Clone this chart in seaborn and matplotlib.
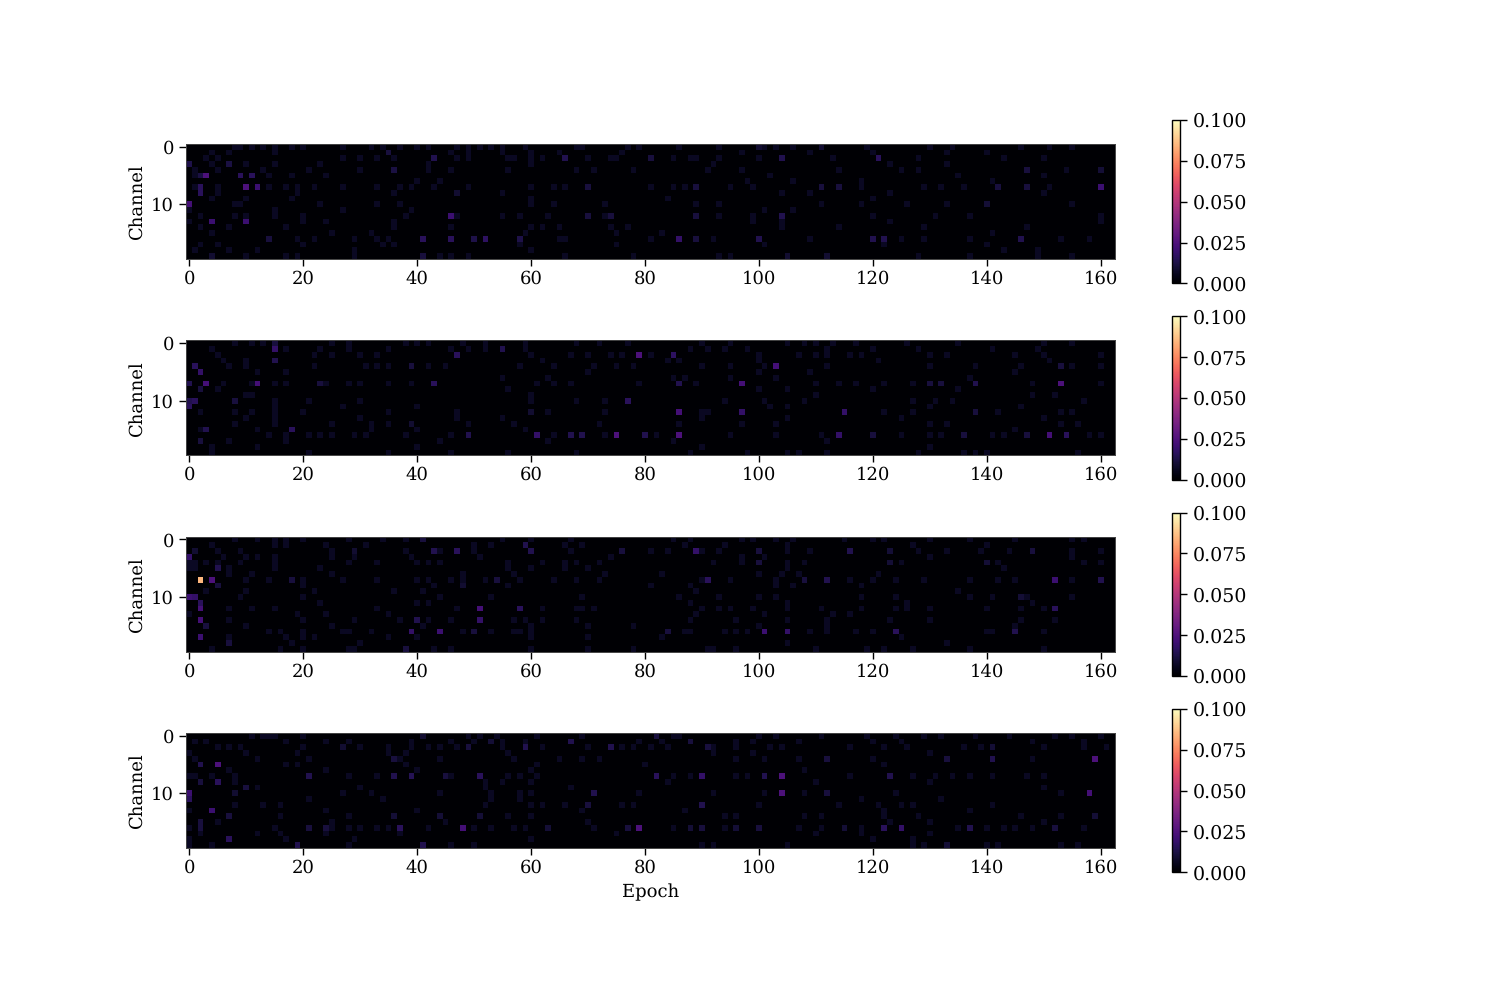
"""Channel activity per epoch, four heatmap panels with their own colorbars."""

import numpy as np
import matplotlib
matplotlib.use('Agg')
import matplotlib.pyplot as plt
import seaborn as sns

N_CHANNELS = 20
N_EPOCHS = 163
VMIN = 0.0
VMAX = 0.1
FAINT_LEVEL = 0.0065

epoch_ticks = [0, 20, 40, 60, 80, 100, 120, 140, 160]
channel_ticks = [0, 10]
cbar_ticks = [0.0, 0.025, 0.05, 0.075, 0.1]

# brightest cells: (epoch, channel, value)
panel1_peaks = [
    (3, 5, .024), (2, 5, .012), (9, 5, .016), (11, 5, .016), (10, 7, .024), (12, 7, .02),
    (2, 7, .016), (2, 8, .016), (0, 10, .022), (4, 13, .02), (10, 13, .02), (0, 3, .013),
    (7, 3, .012), (43, 2, .014), (66, 2, .014), (35, 1, .011), (36, 4, .012), (46, 12, .02),
    (41, 16, .016), (46, 16, .016), (50, 16, .013), (52, 16, .017), (58, 16, .013),
    (41, 19, .011), (14, 16, .011), (70, 12, .011), (74, 12, .011), (70, 7, .011),
    (81, 2, .011), (4, 19, .009), (47, 8, .009), (86, 16, .018), (104, 2, .014),
    (121, 2, .016), (111, 7, .011), (114, 7, .011), (160, 7, .02), (104, 12, .014),
    (100, 16, .014), (120, 16, .014), (122, 16, .014), (146, 16, .014), (142, 7, .011),
    (147, 7, .011), (147, 4, .011), (100, 0, .009), (111, 0, .009), (89, 7, .011),
    (89, 12, .011), (89, 16, .011), (160, 4, .01), (140, 10, .01), (105, 19, .009),
    (112, 19, .009),
]
panel2_peaks = [
    (15, 1, .018), (15, 0, .011), (15, 3, .014), (1, 4, .016), (2, 5, .018), (0, 7, .014),
    (3, 7, .022), (12, 7, .022), (2, 8, .011), (0, 10, .014), (1, 10, .016), (0, 11, .016),
    (8, 10, .011), (3, 15, .014), (18, 15, .016), (2, 17, .011), (47, 2, .016), (55, 1, .014),
    (79, 2, .024), (23, 7, .011), (43, 7, .016), (77, 10, .016), (61, 16, .018), (75, 16, .024),
    (67, 16, .014), (69, 16, .014), (49, 16, .014), (80, 16, .014), (39, 4, .011), (39, 14, .009),
    (60, 12, .009), (85, 2, .017), (103, 4, .022), (86, 7, .014), (97, 7, .022), (86, 12, .022),
    (97, 12, .018), (115, 12, .018), (86, 16, .024), (114, 16, .018), (153, 7, .024),
    (151, 16, .022), (154, 16, .016), (147, 16, .011), (120, 16, .011), (138, 7, .014),
    (130, 7, .011), (132, 7, .011), (138, 12, .011), (136, 16, .011), (153, 4, .011),
]
panel3_peaks = [
    (2, 7, .085), (4, 7, .024), (0, 3, .018), (1, 2, .009), (0, 4, .007), (1, 4, .007),
    (0, 5, .007), (1, 5, .007), (5, 5, .014), (5, 8, .011), (0, 10, .02), (1, 10, .018),
    (2, 11, .016), (2, 12, .022), (2, 14, .022), (2, 17, .02), (3, 15, .011), (7, 18, .011),
    (51, 12, .022), (51, 14, .018), (58, 12, .016), (39, 16, .018), (44, 16, .02), (50, 16, .011),
    (38, 19, .011), (40, 14, .014), (47, 2, .016), (43, 2, .014), (59, 1, .014), (60, 2, .014),
    (76, 2, .011), (41, 0, .011), (29, 2, .009), (18, 7, .011), (54, 7, .011), (48, 8, .009),
    (89, 2, .018), (91, 7, .016), (101, 16, .02), (105, 16, .018), (84, 16, .011), (124, 16, .016),
    (116, 2, .014), (100, 2, .011), (100, 4, .011), (152, 7, .02), (152, 12, .016), (160, 7, .014),
    (148, 2, .011), (145, 16, .014), (108, 7, .011), (112, 7, .014), (146, 10, .01), (123, 2, .01),
    (123, 4, .01), (140, 4, .01),
]
panel4_peaks = [
    (5, 5, .024), (2, 5, .014), (5, 8, .016), (2, 8, .011), (0, 10, .02), (0, 11, .016),
    (4, 13, .02), (10, 9, .011), (8, 10, .009), (7, 14, .011), (2, 15, .011), (2, 16, .011),
    (7, 18, .016), (19, 19, .014), (41, 19, .014), (21, 7, .014), (36, 7, .014), (39, 7, .015),
    (45, 7, .011), (51, 7, .016), (82, 7, .016), (37, 16, .016), (48, 16, .022), (79, 16, .024),
    (77, 16, .011), (63, 16, .01), (21, 16, .011), (24, 16, .011), (71, 10, .014), (70, 12, .011),
    (74, 2, .014), (49, 2, .011), (59, 2, .014), (67, 1, .014), (53, 1, .01), (36, 4, .011),
    (41, 0, .009), (27, 2, .009), (36, 14, .01), (51, 14, .01), (44, 14, .01), (90, 7, .018),
    (104, 7, .024), (104, 10, .024), (101, 7, .014), (90, 12, .014), (159, 4, .024), (158, 10, .022),
    (141, 4, .014), (133, 4, .011), (112, 4, .011), (82, 0, .011), (88, 1, .011), (91, 2, .011),
    (122, 16, .016), (125, 16, .018), (137, 16, .014), (152, 16, .011), (88, 16, .01), (90, 16, .011),
    (96, 16, .01), (100, 16, .011), (115, 16, .01), (123, 7, .014), (141, 2, .01), (159, 14, .01),
    (112, 10, .011), (133, 19, .01),
]

# dimmer cells, channel -> epochs where a cell is just visible
panel1_faint = {
    0: [8, 9, 11, 13, 15, 18, 20, 27, 32, 34, 37, 40, 42, 47, 49, 51, 53, 55, 59, 68, 69, 77, 79, 86, 93, 101, 103, 106, 111, 119, 130, 134, 146, 151, 155],
    1: [4, 7, 15, 46, 49, 55, 60, 65, 76, 97, 109, 120, 133, 140],
    2: [3, 5, 27, 30, 33, 36, 47, 49, 56, 57, 60, 62, 70, 74, 75, 85, 88, 89, 93, 100, 113, 128, 143, 150],
    3: [4, 10, 15, 23, 42, 60, 92, 123, 133],
    4: [1, 5, 13, 21, 30, 42, 46, 56, 68, 71, 78, 91, 97, 114, 125, 128, 154],
    5: [1, 14, 18, 24, 102, 135, 150],
    6: [40, 44, 98, 106, 118, 141],
    7: [1, 5, 14, 17, 19, 22, 27, 33, 37, 39, 43, 49, 60, 64, 66, 81, 85, 87, 95, 99, 118, 129, 132, 136, 151],
    8: [5, 19, 36, 55, 104, 109, 123, 150],
    9: [4, 10, 18, 60, 84, 120],
    10: [8, 9, 23, 33, 37, 60, 64, 73, 89, 93, 111, 118, 126, 133, 155],
    11: [0, 15, 27, 39, 101, 106],
    12: [2, 8, 10, 15, 20, 38, 47, 55, 58, 63, 73, 93, 99, 120, 131, 137, 160],
    13: [0, 20, 24, 36, 99, 104, 123, 160],
    14: [2, 7, 17, 36, 46, 60, 62, 65, 74, 77, 104, 114, 129, 147],
    15: [4, 25, 32, 59, 75, 83, 141],
    16: [19, 22, 29, 33, 35, 65, 66, 81, 92, 109, 125, 129, 137, 153, 158],
    17: [2, 5, 20, 34, 36, 58, 75, 101, 122, 140],
    18: [1, 7, 12, 29, 60, 143, 149],
    19: [10, 17, 19, 29, 44, 46, 49, 66, 78, 93, 95, 128, 137, 149, 155],
}
panel2_faint = {
    0: [8, 11, 13, 25, 28, 38, 40, 42, 48, 52, 59, 68, 72, 77, 90, 95, 105, 108, 110, 113, 117, 126, 135, 150, 155],
    1: [4, 17, 23, 28, 35, 46, 49, 52, 59, 88, 91, 94, 98, 112, 120, 128, 141, 149],
    2: [5, 22, 25, 30, 33, 60, 67, 70, 74, 76, 81, 100, 107, 110, 112, 116, 118, 130, 133, 145, 150, 160],
    3: [6, 10, 15, 62, 84, 86, 100, 121, 151],
    4: [7, 10, 22, 31, 33, 35, 42, 45, 58, 64, 71, 75, 78, 90, 95, 101, 112, 130, 138, 146, 153, 155, 160],
    5: [12, 17, 70, 100, 109, 145],
    6: [55, 63, 85, 87, 95, 103, 137],
    7: [6, 11, 15, 17, 24, 28, 30, 35, 39, 61, 64, 67, 79, 89, 110, 114, 117, 122, 127, 148, 160],
    8: [5, 56, 100, 105, 120, 135],
    9: [10, 11, 60, 110, 148, 152],
    10: [15, 21, 30, 60, 68, 73, 94, 101, 108, 127, 131, 134, 157],
    11: [15, 27, 40, 102, 105, 130, 146],
    12: [2, 8, 11, 15, 20, 35, 47, 60, 63, 73, 90, 91, 122, 127, 142, 153, 155],
    13: [10, 15, 30, 47, 55, 90, 105, 125, 150],
    14: [8, 15, 25, 32, 35, 49, 57, 72, 86, 97, 103, 130, 133, 153, 156],
    15: [2, 12, 32, 40, 59, 145],
    16: [14, 17, 21, 23, 25, 29, 31, 38, 46, 64, 69, 73, 82, 95, 103, 111, 125, 130, 132, 141, 143, 158, 160],
    17: [7, 17, 44, 63, 85, 112],
    18: [4, 12, 40, 90, 130],
    19: [4, 21, 35, 46, 56, 68, 88, 98, 105, 107, 112, 128, 136, 138, 140, 156],
}
panel3_faint = {
    0: [8, 12, 15, 17, 20, 28, 34, 38, 55, 60, 67, 85, 88, 97, 99, 103, 106, 115, 120, 122, 130, 137, 145, 155, 157],
    1: [4, 15, 17, 24, 31, 50, 53, 59, 66, 69, 87, 94, 105, 127, 140],
    2: [5, 9, 25, 38, 44, 50, 67, 81, 84, 90, 93, 105, 109, 128, 133, 139, 144, 155, 160],
    3: [6, 10, 12, 15, 25, 29, 39, 51, 74, 97, 101, 130, 155],
    4: [3, 5, 9, 15, 28, 33, 40, 42, 44, 56, 62, 66, 68, 72, 92, 97, 105, 108, 125, 142, 157, 160],
    5: [7, 15, 23, 56, 60, 66, 70, 105, 143],
    6: [7, 11, 25, 48, 57, 73, 83, 100, 104, 107, 121],
    7: [10, 14, 20, 27, 33, 40, 42, 46, 48, 52, 58, 64, 68, 72, 90, 95, 103, 116, 120, 124, 129, 137, 142, 145, 155],
    8: [20, 43, 56, 81, 88, 103, 106, 118],
    9: [3, 10, 22, 36, 41, 89, 135],
    10: [9, 20, 44, 53, 69, 86, 93, 100, 103, 118, 124, 137, 141, 147, 155],
    11: [23, 40, 42, 88, 105, 126, 148],
    12: [7, 11, 15, 33, 47, 62, 68, 69, 71, 90, 93, 95, 99, 105, 111, 118, 124, 126, 130, 140, 146, 150],
    13: [0, 19, 24, 35, 89, 101, 113, 116],
    14: [7, 20, 29, 37, 42, 46, 57, 59, 62, 68, 88, 96, 105, 112, 123, 130, 146, 152],
    15: [10, 25, 41, 60, 70, 78, 100, 112, 145],
    16: [14, 16, 20, 27, 28, 32, 48, 53, 57, 58, 60, 84, 87, 88, 94, 96, 98, 109, 112, 117, 120, 140, 141, 150],
    17: [7, 17, 20, 22, 35, 40, 60, 70, 83, 125],
    18: [7, 18, 30, 105, 133],
    19: [4, 16, 20, 28, 29, 43, 46, 60, 70, 78, 91, 92, 96, 110, 119, 122, 127, 137, 150],
}
panel4_faint = {
    0: [11, 13, 14, 15, 20, 41, 49, 51, 54, 61, 69, 85, 86, 100, 103, 111, 119, 124, 129, 132, 138, 144, 152, 155, 160],
    1: [1, 3, 17, 24, 28, 39, 46, 50, 55, 59, 79, 83, 96, 99, 107, 120, 125, 148, 157],
    2: [5, 7, 9, 20, 30, 35, 39, 42, 44, 47, 55, 62, 70, 76, 78, 81, 84, 92, 96, 102, 104, 116, 122, 126, 136, 139, 150, 157, 161],
    3: [0, 10, 19, 35, 38, 56, 92, 99, 130],
    4: [1, 12, 21, 37, 44, 57, 65, 69, 72, 96, 101, 107, 120, 133, 148],
    5: [17, 19, 38, 61, 80, 122],
    6: [7, 24, 40, 60, 108],
    7: [0, 1, 4, 8, 28, 33, 46, 56, 58, 61, 85, 88, 96, 98, 116, 127, 131, 134, 137, 141, 147, 150],
    8: [8, 52, 55, 60, 84, 110, 130],
    9: [12, 30, 52, 67, 150],
    10: [27, 32, 44, 53, 58, 60, 79, 92, 101, 108, 124, 153],
    11: [21, 34, 53, 58, 118, 132],
    12: [8, 13, 16, 52, 60, 62, 66, 76, 78, 100, 114, 121, 125, 127, 141],
    13: [0, 24, 40, 69, 87, 122, 137],
    14: [16, 28, 56, 60, 94, 96, 108, 111, 122, 128, 146, 153],
    15: [5, 25, 45, 70, 123, 130, 150],
    16: [0, 15, 25, 28, 30, 33, 35, 42, 50, 53, 57, 59, 71, 85, 94, 107, 111, 118, 135, 140, 143, 145, 148, 157],
    17: [2, 12, 16, 24, 37, 75, 110, 118, 130],
    18: [0, 17, 29, 60, 120, 127],
    19: [0, 4, 28, 46, 50, 90, 92, 105, 127, 129, 140, 142, 153, 156],
}

panel_peaks = [panel1_peaks, panel2_peaks, panel3_peaks, panel4_peaks]
panel_faint = [panel1_faint, panel2_faint, panel3_faint, panel4_faint]

# pixel boxes of the panels and colorbars in the 1495x997 figure (top, bottom)
AX_BOXES = [(144.0, 259.0), (340.4, 455.4), (536.6, 651.6), (732.8, 847.8)]
CBAR_BOXES = [(120.0, 283.4), (316.3, 479.7), (512.6, 676.0), (708.8, 872.2)]
FIG_W, FIG_H = 1495, 997


def build_matrix(peaks, faint):
    matrix = np.zeros((N_CHANNELS, N_EPOCHS))
    for channel, epochs in faint.items():
        matrix[channel, epochs] = FAINT_LEVEL
    for epoch, channel, value in peaks:
        matrix[channel, epoch] = value
    return matrix


def to_rect(left, right, top, bottom):
    """Pixel box to figure fractions."""
    return [left / FIG_W, 1 - bottom / FIG_H, (right - left) / FIG_W, (bottom - top) / FIG_H]


sns.set_theme(style='white')
plt.rcParams['font.family'] = ['DejaVu Serif']
plt.rcParams['font.size'] = 13.2
plt.rcParams['text.hinting'] = 'none'
plt.rcParams['text.hinting_factor'] = 1

fig = plt.figure(figsize=(FIG_W / 100, FIG_H / 100), dpi=100)

for i in range(4):
    ax = fig.add_axes(to_rect(186.4, 1115.0, *AX_BOXES[i]))
    cax = fig.add_axes(to_rect(1171.6, 1180.0, *CBAR_BOXES[i]))

    sns.heatmap(build_matrix(panel_peaks[i], panel_faint[i]), cmap='magma', vmin=VMIN, vmax=VMAX,
                ax=ax, cbar_ax=cax, xticklabels=False, yticklabels=False,
                cbar_kws={'ticks': cbar_ticks, 'format': '%.3f'})

    ax.set_xticks(np.array(epoch_ticks) + 0.5)
    ax.set_xticklabels(epoch_ticks, rotation=0)
    ax.set_yticks(np.array(channel_ticks) + 0.5)
    ax.set_yticklabels(channel_ticks, rotation=0)
    ax.tick_params(axis='x', length=5, width=1, color='black', labelsize=13.2, pad=3,
                   bottom=True, labelcolor='black')
    ax.tick_params(axis='y', length=5, width=1, color='black', labelsize=13.2, pad=4,
                   left=True, labelcolor='black')
    for spine in ax.spines.values():
        spine.set_visible(True)
        spine.set_linewidth(0.7)
        spine.set_color('#444444')
    ax.set_ylabel('Channel', fontsize=12.7, color='black', labelpad=4)

    cax.tick_params(axis='y', length=5, width=1, color='black', labelsize=13.4, pad=4,
                    right=True, labelcolor='black')
    cbar = ax.collections[0].colorbar
    cbar.outline.set_visible(True)
    cbar.outline.set_edgecolor('black')
    cbar.outline.set_linewidth(1.0)

    if i == 3:
        ax.set_xlabel('Epoch', fontsize=12.9, color='black', labelpad=5)

fig.savefig('out.png', dpi=100, facecolor='white')
plt.close(fig)
